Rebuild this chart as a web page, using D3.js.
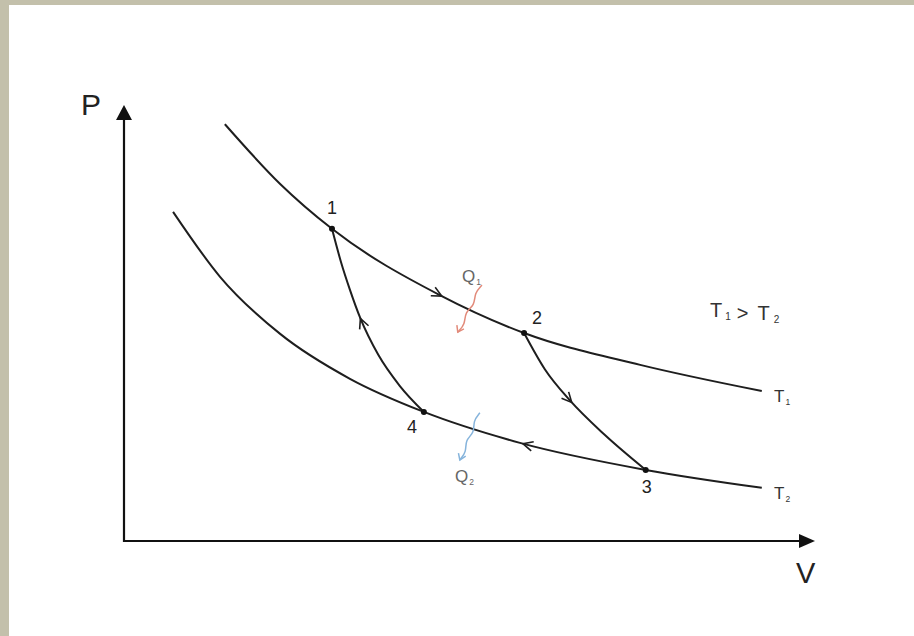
<!DOCTYPE html>
<html lang="en">
<head>
    <meta charset="UTF-8">
    <title>Carnot cycle P-V diagram</title>
    <style>
        body { margin: 0; background: #c3c0ab; }
        svg { display: block; font-family: "Liberation Sans", Arial, sans-serif; }
    </style>
</head>
<body>
<script src="https://cdn.jsdelivr.net/npm/d3@7"></script>
<script>
    const width = 914, height = 636;

    // isotherm T1 (upper) in V/P units (0..100)
    const t1V = [14.6, 22.6, 30.1, 45.7, 57.9, 74.7, 92.3];
    const t1P = [95.6, 81.9, 71.6, 56.4, 47.7, 40.4, 34.4];
    // isotherm T2 (lower)
    const t2V = [7.1, 13.9, 22.6, 32.7, 43.4, 57.3, 75.5, 92.3];
    const t2P = [75.5, 60.6, 47.5, 37.2, 29.6, 22.5, 16.3, 12.2];
    // adiabats 1-4 and 2-3
    const ad14V = [30.1, 31.4, 32.7, 34.2, 36.8, 39.9, 43.4];
    const ad14P = [71.6, 64.0, 57.6, 51.1, 42.7, 35.6, 29.6];
    const ad23V = [57.9, 60.9, 64.5, 69.6, 75.5];
    const ad23P = [47.7, 39.4, 32.3, 24.3, 16.3];
    // cycle states
    const stateNames = ["1", "2", "3", "4"];
    const stateV = [30.1, 57.9, 75.5, 43.4];
    const stateP = [71.6, 47.7, 16.3, 29.6];

    const x = d3.scaleLinear().domain([0, 100]).range([124, 815]);
    const y = d3.scaleLinear().domain([0, 100]).range([541, 105]);

    const pts = (vs, ps) => vs.map((v, i) => [v, ps[i]]);
    const line = d3.line().x(d => x(d[0])).y(d => y(d[1])).curve(d3.curveMonotoneX);

    const svg = d3.select("body").append("svg")
        .attr("width", width).attr("height", height);

    svg.append("rect").attr("x", 9).attr("y", 5)
        .attr("width", width - 9).attr("height", height - 5).attr("fill", "#fff");

    // axes with arrowheads
    const ax = svg.append("g").attr("stroke", "#111").attr("fill", "#111");
    ax.append("line").attr("x1", x(0)).attr("y1", y(0) + 1).attr("x2", x(0)).attr("y2", y(100) + 12)
        .attr("stroke-width", 2.2);
    ax.append("line").attr("x1", x(0) - 1).attr("y1", y(0)).attr("x2", x(100) - 12).attr("y2", y(0))
        .attr("stroke-width", 2.2);
    ax.append("path").attr("stroke", "none")
        .attr("d", `M${x(0)},${y(100)} L${x(0) - 8},${y(100) + 15} L${x(0) + 8},${y(100) + 15} Z`);
    ax.append("path").attr("stroke", "none")
        .attr("d", `M${x(100)},${y(0)} L${x(100) - 16},${y(0) - 7} L${x(100) - 16},${y(0) + 7} Z`);

    svg.append("text").attr("x", 81).attr("y", 115).attr("font-size", 30).attr("fill", "#222").text("P");
    svg.append("text").attr("x", 796).attr("y", 583).attr("font-size", 29).attr("fill", "#222").text("V");

    // curves, with direction arrows of the cycle 1-2-3-4
    const curves = [
        {d: pts(t1V, t1P), arrowV: 46.0, reverse: false},
        {d: pts(t2V, t2P), arrowV: 57.7, reverse: true},
        {d: pts(ad14V, ad14P), arrowV: 34.2, reverse: true},
        {d: pts(ad23V, ad23P), arrowV: 64.8, reverse: false}
    ];

    const cg = svg.append("g").attr("fill", "none").attr("stroke", "#1e1e1e").attr("stroke-width", 2);
    curves.forEach(c => {
        const p = cg.append("path").attr("d", line(c.d)).node();
        const L = p.getTotalLength();
        const tx = x(c.arrowV);
        let best = 0, bd = Infinity;
        for (let s = 0; s <= L; s += 0.5) {
            const q = p.getPointAtLength(s);
            if (Math.abs(q.x - tx) < bd) { bd = Math.abs(q.x - tx); best = s; }
        }
        const a = p.getPointAtLength(Math.max(0, best - 2)), b = p.getPointAtLength(Math.min(L, best + 2));
        let ang = Math.atan2(b.y - a.y, b.x - a.x);
        if (c.reverse) ang += Math.PI;
        const tip = p.getPointAtLength(best);
        const len = 11, spread = 0.45;
        const l1 = [tip.x - len * Math.cos(ang - spread), tip.y - len * Math.sin(ang - spread)];
        const l2 = [tip.x - len * Math.cos(ang + spread), tip.y - len * Math.sin(ang + spread)];
        cg.append("path").attr("stroke-width", 1.6)
            .attr("d", `M${l1[0]},${l1[1]} L${tip.x},${tip.y} L${l2[0]},${l2[1]}`);
    });

    // state points
    const states = stateV.map((v, i) => ({v, p: stateP[i], name: stateNames[i]}));
    svg.append("g").selectAll("circle")
        .data(states)
        .join("circle")
        .attr("cx", d => x(d.v)).attr("cy", d => y(d.p)).attr("r", 3).attr("fill", "#111");

    const labelOffset = {"1": [-5, -15], "2": [8, -9], "3": [-4, 23], "4": [-17, 21]};
    svg.append("g").selectAll("text")
        .data(states)
        .join("text")
        .attr("x", d => x(d.v) + labelOffset[d.name][0])
        .attr("y", d => y(d.p) + labelOffset[d.name][1])
        .attr("font-size", 18).attr("fill", "#222").text(d => d.name);

    // text with subscripts: parts are [text, isSub, dx]
    function subText(px, py, parts, size, color) {
        const t = svg.append("text").attr("x", px).attr("y", py).attr("font-size", size).attr("fill", color);
        parts.forEach(([s, sub, dx]) => {
            if (sub) {
                t.append("tspan").attr("font-size", size * 0.5).attr("dx", dx || 1).attr("dy", 3).text(s);
                t.append("tspan").attr("dy", -3).text("");
            } else {
                t.append("tspan").attr("dx", dx || 0).text(s);
            }
        });
    }

    subText(774, 402, [["T"], ["1", true]], 17, "#333");
    subText(774, 499, [["T"], ["2", true]], 17, "#333");
    subText(710, 317, [["T"], ["1", true, 3], [">", false, 6], ["T", false, 9], ["2", true, 4]], 20, "#333");
    subText(462, 282, [["Q"], ["1", true]], 17, "#666");
    subText(455, 482, [["Q"], ["2", true]], 17, "#666");

    // wavy heat-flow arrows
    const heatFrom = [[51.8, 58.7], [51.5, 29.4]];
    const heatTo = [[48.3, 47.9], [48.6, 18.6]];
    const heatColor = ["#e28a7a", "#86b4dc"];
    heatFrom.forEach((f, i) => {
        const x0 = x(f[0]), y0 = y(f[1]), x1 = x(heatTo[i][0]), y1 = y(heatTo[i][1]);
        const dx = x1 - x0, dy = y1 - y0, n = Math.hypot(dx, dy);
        const nx = -dy / n, ny = dx / n;
        const wig = [0, 3, -3, 3, -3, 0];
        const wp = wig.map((w, k) => {
            const t = k / (wig.length - 1);
            return [x0 + dx * t + nx * w, y0 + dy * t + ny * w];
        });
        svg.append("path").attr("fill", "none").attr("stroke", heatColor[i]).attr("stroke-width", 1.5)
            .attr("d", d3.line().curve(d3.curveBasis)(wp));
        const ang = Math.atan2(dy, dx);
        const len = 7;
        svg.append("path").attr("fill", "none").attr("stroke", heatColor[i]).attr("stroke-width", 1.5)
            .attr("d", `M${x1 - len * Math.cos(ang - 0.6)},${y1 - len * Math.sin(ang - 0.6)} L${x1},${y1} L${x1 - len * Math.cos(ang + 0.6)},${y1 - len * Math.sin(ang + 0.6)}`);
    });
</script>
</body>
</html>
